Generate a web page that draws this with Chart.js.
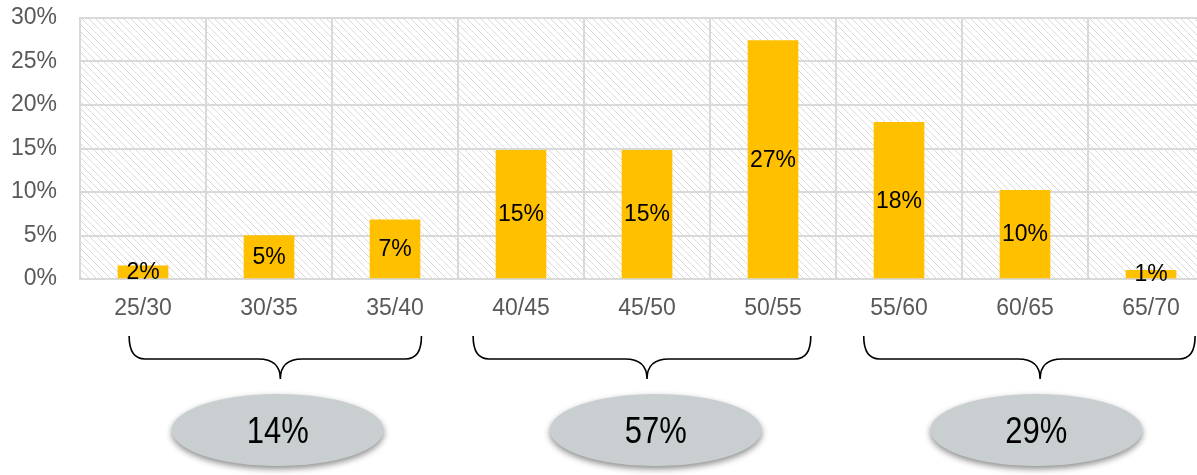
<!DOCTYPE html>
<html>
<head>
<meta charset="utf-8">
<script src="https://cdn.jsdelivr.net/npm/chart.js@4/dist/chart.umd.min.js"></script>
<style>
  html, body { margin:0; padding:0; background:#fff; overflow:hidden; }
  #wrap { position:relative; width:1214px; height:475px; }
</style>
</head>
<body>
<div id="wrap"><canvas id="ageChart"></canvas></div>
<script>
const AGE_BANDS = ['25/30','30/35','35/40','40/45','45/50','50/55','55/60','60/65','65/70'];
const SHARE = [1.5, 5.0, 6.8, 14.8, 14.8, 27.4, 18.0, 10.2, 1.0];
const Y_MAX = 30;
const Y_STEP = 5;
const GROUP_LABELS = ['14%','57%','29%'];

// brace + bubble placement, in category units
const BRACES = [
  { from:-0.11, to:2.21, tip:1.09, bubble:1.07 },
  { from: 2.62, to:5.30, tip:4.00, bubble:4.07 },
  { from: 5.72, to:8.35, tip:7.12, bubble:7.09 },
];

const gridC = '#d9d9d9';
const tickC = '#595959';
const FONT = '"Liberation Sans", Arial, sans-serif';

function hatch() {
  const c = document.createElement('canvas');
  c.width = 7; c.height = 7;
  const g = c.getContext('2d');
  g.fillStyle = '#fff'; g.fillRect(0,0,7,7);
  g.fillStyle = '#dadada';
  for (let i = 0; i < 7; i++) g.fillRect(i, i, 1, 1);
  return g.createPattern(c, 'repeat');
}

const hatchBg = {
  id:'hatchBg',
  beforeDraw(chart) {
    const { ctx, chartArea:a } = chart;
    ctx.save();
    ctx.fillStyle = hatch();
    ctx.fillRect(a.left, a.top, a.right - a.left, a.bottom - a.top);
    ctx.restore();
  }
};

const barLabels = {
  id:'barLabels',
  afterDatasetsDraw(chart) {
    const { ctx } = chart;
    const meta = chart.getDatasetMeta(0);
    ctx.save();
    ctx.font = '23px ' + FONT;
    ctx.fillStyle = '#000';
    ctx.textAlign = 'center';
    ctx.textBaseline = 'middle';
    meta.data.forEach((bar, i) => {
      ctx.fillText(Math.round(SHARE[i]) + '%', bar.x, (bar.y + bar.base) / 2 + 1);
    });
    ctx.restore();
  }
};

const groups = {
  id:'groups',
  afterDraw(chart) {
    const { ctx } = chart;
    const xs = chart.scales.x;
    const top = 336, mid = 359, tipY = 379, r = 16, rt = 22;
    ctx.save();
    BRACES.forEach((b, i) => {
      const x0 = xs.getPixelForValue(b.from);
      const x1 = xs.getPixelForValue(b.to);
      const xt = xs.getPixelForValue(b.tip);
      ctx.beginPath();
      ctx.moveTo(x0, top);
      ctx.quadraticCurveTo(x0, mid, x0 + r, mid);
      ctx.lineTo(xt - rt, mid);
      ctx.quadraticCurveTo(xt, mid, xt, tipY);
      ctx.quadraticCurveTo(xt, mid, xt + rt, mid);
      ctx.lineTo(x1 - r, mid);
      ctx.quadraticCurveTo(x1, mid, x1, top);
      ctx.strokeStyle = '#000';
      ctx.lineWidth = 1.6;
      ctx.stroke();

      const cx = xs.getPixelForValue(b.bubble), cy = 430;
      ctx.save();
      ctx.shadowColor = 'rgba(0,0,0,0.45)';
      ctx.shadowBlur = 6;
      ctx.shadowOffsetY = 3;
      ctx.beginPath();
      ctx.ellipse(cx, cy, 106, 36, 0, 0, Math.PI * 2);
      ctx.fillStyle = '#c9cfd1';
      ctx.fill();
      ctx.restore();

      ctx.save();
      ctx.translate(cx, cy + 3);
      ctx.scale(0.86, 1);
      ctx.font = '36px ' + FONT;
      ctx.fillStyle = '#000';
      ctx.textAlign = 'center';
      ctx.textBaseline = 'middle';
      ctx.fillText(GROUP_LABELS[i], 0, 0);
      ctx.restore();
    });
    ctx.restore();
  }
};

new Chart(document.getElementById('ageChart'), {
  type:'bar',
  data:{ labels:AGE_BANDS, datasets:[
    { label:'Share', data:SHARE, backgroundColor:'#FFC000', barThickness:50 }
  ]},
  options:{
    responsive:true, maintainAspectRatio:false, animation:false,
    layout:{ padding:{ top:18, right:0, bottom:0, left:0 } },
    plugins:{ legend:{display:false}, tooltip:{enabled:false} },
    scales:{
      x:{
        grid:{ color:gridC, lineWidth:2, drawTicks:false },
        border:{ color:gridC, width:2 },
        ticks:{ color:tickC, font:{ family:FONT, size:23 }, padding:16, maxRotation:0 },
        afterFit(s) { s.height = 196; }
      },
      y:{
        min:0, max:Y_MAX,
        grid:{ color:gridC, lineWidth:2, drawTicks:false },
        border:{ color:gridC, width:2 },
        // en-spaces keep the label gap without inflating the top padding
        ticks:{ stepSize:Y_STEP, color:tickC, font:{ family:FONT, size:23 }, padding:0, callback:v => v + '%\u2002\u2002' },
        afterFit(s) { s.width = 80; }
      }
    }
  },
  plugins:[hatchBg, barLabels, groups]
});
</script>
</body>
</html>
